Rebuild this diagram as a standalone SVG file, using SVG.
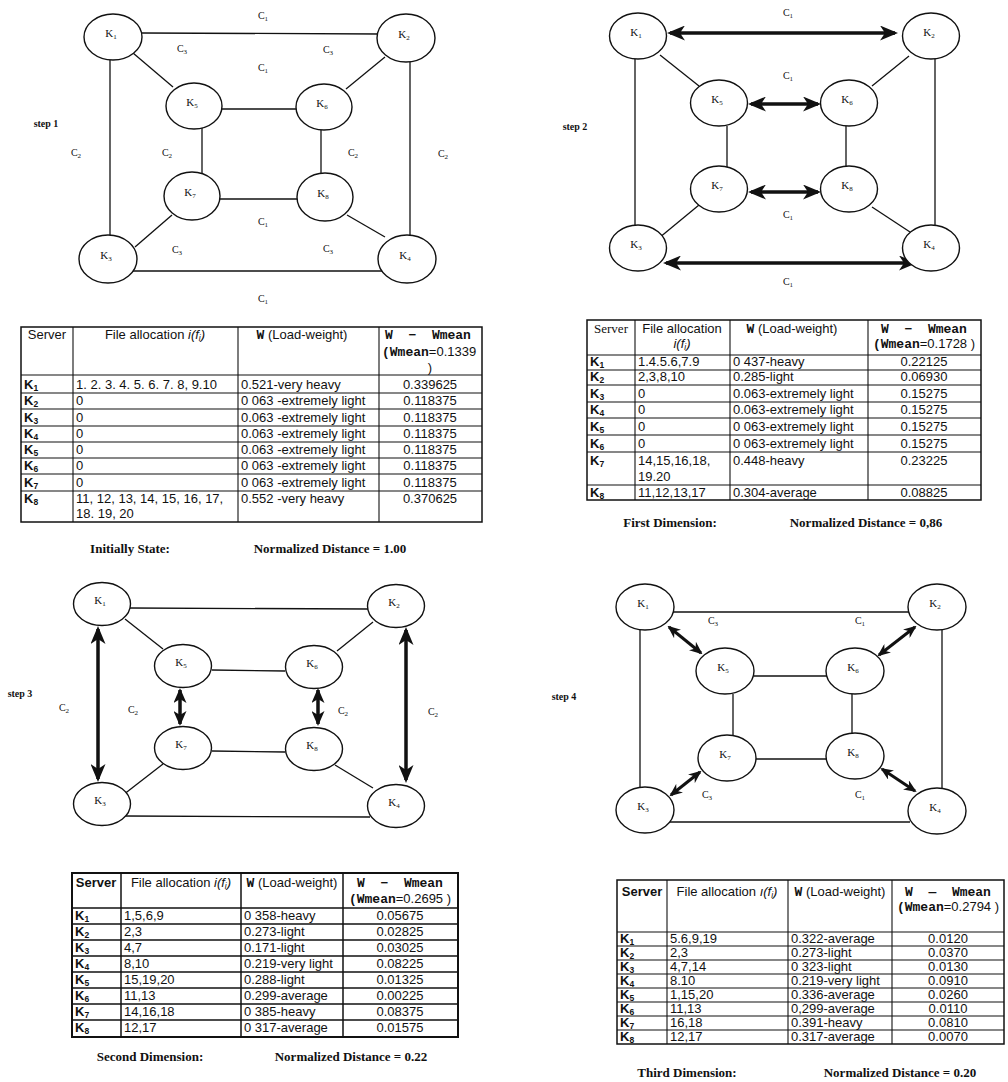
<svg xmlns="http://www.w3.org/2000/svg" width="1008" height="1082" viewBox="0 0 1008 1082">
<style>
.bg{fill:#fff}
.node ellipse{fill:#fff;stroke:#111;stroke-width:1.4}
.nl{font-family:"Liberation Serif","Times New Roman",serif;font-size:11px;text-anchor:middle;fill:#111}
.sub{font-size:7px}
.el{font-family:"Liberation Serif","Times New Roman",serif;font-size:10px;text-anchor:middle;fill:#111}
.step{font-family:"Liberation Serif","Times New Roman",serif;font-size:10px;font-weight:bold;text-anchor:middle;fill:#111}
.edge{stroke:#111;stroke-width:1.3;fill:none}
.arL{stroke:#111;stroke-width:3.5;fill:none;marker-start:url(#ahL);marker-end:url(#ahL)}
.arM{stroke:#111;stroke-width:3.5;fill:none;marker-start:url(#ahM);marker-end:url(#ahM)}
.arS{stroke:#111;stroke-width:3;fill:none;marker-start:url(#ahS);marker-end:url(#ahS)}
.tb rect{fill:none;stroke:#111;stroke-width:1.5}
.tb line{stroke:#111;stroke-width:1.1}
.tb text{font-family:"Liberation Sans",Arial,sans-serif;font-size:13px;fill:#111}
.tb .k{font-weight:bold}
.tb .ksub{font-size:8.5px}
.tb .c{text-anchor:middle}
.tb .mono{font-family:"Liberation Mono","Courier New",monospace;font-weight:bold}
.tb .it{font-style:italic}
.tb .serif{font-family:"Liberation Serif","Times New Roman",serif}
#table3 rect{stroke-width:2}
#table3 line{stroke-width:1.5}
.cap{font-family:"Liberation Serif","Times New Roman",serif;font-size:13px;font-weight:bold;text-anchor:middle;fill:#111}
</style>
<defs>
<marker id="ahL" viewBox="0 0 18 15" refX="15" refY="7.5" markerWidth="18" markerHeight="15" markerUnits="userSpaceOnUse" orient="auto-start-reverse"><path d="M0,0 L18,7.5 L0,15 L5,7.5 z" fill="#111"/></marker>
<marker id="ahM" viewBox="0 0 15 13" refX="13" refY="6.5" markerWidth="15" markerHeight="13" markerUnits="userSpaceOnUse" orient="auto-start-reverse"><path d="M0,0 L15,6.5 L0,13 L4,6.5 z" fill="#111"/></marker>
<marker id="ahS" viewBox="0 0 13 11" refX="11" refY="5.5" markerWidth="13" markerHeight="11" markerUnits="userSpaceOnUse" orient="auto-start-reverse"><path d="M0,0 L13,5.5 L0,11 L4,5.5 z" fill="#111"/></marker>
</defs>
<rect class="bg" x="0" y="0" width="1008" height="1082"/>

<!-- ===== STEP 1 ===== -->
<g id="step1">
<g id="s1-connectors">
<line class="edge" x1="142" y1="33" x2="380" y2="34"/>
<line class="edge" x1="110" y1="60" x2="110" y2="235"/>
<line class="edge" x1="410" y1="62" x2="410" y2="235"/>
<line class="edge" x1="133" y1="271" x2="382" y2="271"/>
<line class="edge" x1="133" y1="53" x2="173" y2="87"/>
<line class="edge" x1="385" y1="57" x2="346" y2="89"/>
<line class="edge" x1="222" y1="109" x2="296" y2="109"/>
<line class="edge" x1="202" y1="128" x2="202" y2="173"/>
<line class="edge" x1="321" y1="130" x2="321" y2="174"/>
<line class="edge" x1="220" y1="199" x2="297" y2="199"/>
<line class="edge" x1="172" y1="215" x2="135" y2="247"/>
<line class="edge" x1="347" y1="215" x2="385" y2="237"/>
</g>
<g id="s1-K1" class="node"><ellipse cx="113" cy="37" rx="29" ry="23"/><text class="nl" x="111" y="37">K<tspan class="sub" dy="2">1</tspan></text></g>
<g id="s1-K2" class="node"><ellipse cx="406" cy="38" rx="29" ry="24"/><text class="nl" x="404" y="38">K<tspan class="sub" dy="2">2</tspan></text></g>
<g id="s1-K5" class="node"><ellipse cx="194" cy="106" rx="28" ry="23"/><text class="nl" x="192" y="106">K<tspan class="sub" dy="2">5</tspan></text></g>
<g id="s1-K6" class="node"><ellipse cx="324" cy="107" rx="28" ry="23"/><text class="nl" x="322" y="107">K<tspan class="sub" dy="2">6</tspan></text></g>
<g id="s1-K7" class="node"><ellipse cx="192" cy="196" rx="28" ry="24"/><text class="nl" x="190" y="196">K<tspan class="sub" dy="2">7</tspan></text></g>
<g id="s1-K8" class="node"><ellipse cx="325" cy="197" rx="28" ry="24"/><text class="nl" x="323" y="197">K<tspan class="sub" dy="2">8</tspan></text></g>
<g id="s1-K3" class="node"><ellipse cx="108" cy="259" rx="29" ry="24"/><text class="nl" x="106" y="259">K<tspan class="sub" dy="2">3</tspan></text></g>
<g id="s1-K4" class="node"><ellipse cx="407" cy="259" rx="29" ry="24"/><text class="nl" x="405" y="259">K<tspan class="sub" dy="2">4</tspan></text></g>
<g id="s1-labels">
<text class="step" x="46" y="127">step 1</text>
<text class="el" x="263" y="19">C<tspan class="sub" dy="2">1</tspan></text>
<text class="el" x="182" y="52">C<tspan class="sub" dy="2">3</tspan></text>
<text class="el" x="328" y="53">C<tspan class="sub" dy="2">3</tspan></text>
<text class="el" x="263" y="71">C<tspan class="sub" dy="2">1</tspan></text>
<text class="el" x="76" y="156">C<tspan class="sub" dy="2">2</tspan></text>
<text class="el" x="167" y="156">C<tspan class="sub" dy="2">2</tspan></text>
<text class="el" x="353" y="156">C<tspan class="sub" dy="2">2</tspan></text>
<text class="el" x="443" y="157">C<tspan class="sub" dy="2">2</tspan></text>
<text class="el" x="263" y="225">C<tspan class="sub" dy="2">1</tspan></text>
<text class="el" x="177" y="253">C<tspan class="sub" dy="2">3</tspan></text>
<text class="el" x="328" y="252">C<tspan class="sub" dy="2">3</tspan></text>
<text class="el" x="263" y="302">C<tspan class="sub" dy="2">1</tspan></text>
</g>
</g>

<!-- ===== STEP 2 ===== -->
<g id="step2">
<g id="s2-connectors">
<line class="arL" x1="670" y1="33" x2="895" y2="33"/>
<line class="edge" x1="635" y1="59" x2="635" y2="225"/>
<line class="edge" x1="935" y1="59" x2="935" y2="225"/>
<line class="edge" x1="660" y1="55" x2="699" y2="86"/>
<line class="edge" x1="909" y1="56" x2="872" y2="86"/>
<line class="arL" x1="751" y1="104" x2="818" y2="104"/>
<line class="edge" x1="727" y1="126" x2="727" y2="167"/>
<line class="edge" x1="846" y1="126" x2="846" y2="167"/>
<line class="arL" x1="751" y1="192" x2="818" y2="192"/>
<line class="edge" x1="699" y1="205" x2="659" y2="238"/>
<line class="edge" x1="872" y1="207" x2="910" y2="232"/>
<line class="arL" x1="666" y1="263" x2="914" y2="263"/>
</g>
<g id="s2-K1" class="node"><ellipse cx="638" cy="36" rx="28.5" ry="23"/><text class="nl" x="636" y="36">K<tspan class="sub" dy="2">1</tspan></text></g>
<g id="s2-K2" class="node"><ellipse cx="931" cy="36" rx="28.5" ry="23"/><text class="nl" x="929" y="36">K<tspan class="sub" dy="2">2</tspan></text></g>
<g id="s2-K5" class="node"><ellipse cx="719" cy="103" rx="28.5" ry="23"/><text class="nl" x="717" y="103">K<tspan class="sub" dy="2">5</tspan></text></g>
<g id="s2-K6" class="node"><ellipse cx="849" cy="103" rx="28.5" ry="23"/><text class="nl" x="847" y="103">K<tspan class="sub" dy="2">6</tspan></text></g>
<g id="s2-K7" class="node"><ellipse cx="719" cy="189" rx="28.5" ry="23"/><text class="nl" x="717" y="189">K<tspan class="sub" dy="2">7</tspan></text></g>
<g id="s2-K8" class="node"><ellipse cx="849" cy="189" rx="28.5" ry="23"/><text class="nl" x="847" y="189">K<tspan class="sub" dy="2">8</tspan></text></g>
<g id="s2-K3" class="node"><ellipse cx="638" cy="248" rx="28.5" ry="23"/><text class="nl" x="636" y="248">K<tspan class="sub" dy="2">3</tspan></text></g>
<g id="s2-K4" class="node"><ellipse cx="931" cy="248" rx="28.5" ry="23"/><text class="nl" x="929" y="248">K<tspan class="sub" dy="2">4</tspan></text></g>
<g id="s2-labels">
<text class="step" x="575" y="130">step 2</text>
<text class="el" x="788" y="16">C<tspan class="sub" dy="2">1</tspan></text>
<text class="el" x="788" y="79">C<tspan class="sub" dy="2">1</tspan></text>
<text class="el" x="788" y="218">C<tspan class="sub" dy="2">1</tspan></text>
<text class="el" x="788" y="285">C<tspan class="sub" dy="2">1</tspan></text>
</g>
</g>

<!-- ===== TABLE 1 ===== -->
<g id="table1" class="tb">
<rect x="21" y="327" width="461" height="195"/>
<line x1="73" y1="327" x2="73" y2="522"/>
<line x1="238" y1="327" x2="238" y2="522"/>
<line x1="379" y1="327" x2="379" y2="522"/>
<line x1="21" y1="375" x2="482" y2="375"/>
<line x1="21" y1="393" x2="482" y2="393"/>
<line x1="21" y1="409" x2="482" y2="409"/>
<line x1="21" y1="426" x2="482" y2="426"/>
<line x1="21" y1="442" x2="482" y2="442"/>
<line x1="21" y1="458" x2="482" y2="458"/>
<line x1="21" y1="474" x2="482" y2="474"/>
<line x1="21" y1="491" x2="482" y2="491"/>
<text class="c" x="47" y="339">Server</text>
<text class="c" x="155" y="339">File allocation <tspan class="it">i(f<tspan class="ksub" dy="2">i</tspan><tspan dy="-2">)</tspan></tspan></text>
<text class="c" x="302" y="339"><tspan class="mono">W</tspan> (Load-weight)</text>
<text class="c mono" x="428" y="339" xml:space="preserve">W  −  Wmean</text>
<text x="382" y="356"><tspan class="mono">(Wmean</tspan>=0.1339</text>
<text class="c" x="430" y="372">)</text>
<text class="k" x="24" y="389">K<tspan class="ksub" dy="2">1</tspan></text>
<text x="76" y="389">1. 2. 3. 4. 5. 6. 7. 8, 9.10</text>
<text x="241" y="389">0.521-very heavy</text>
<text class="c" x="430" y="389">0.339625</text>
<text class="k" x="24" y="405">K<tspan class="ksub" dy="2">2</tspan></text>
<text x="76" y="405">0</text>
<text x="241" y="405">0 063 -extremely light</text>
<text class="c" x="430" y="405">0.118375</text>
<text class="k" x="24" y="422">K<tspan class="ksub" dy="2">3</tspan></text>
<text x="76" y="422">0</text>
<text x="241" y="422">0.063 -extremely light</text>
<text class="c" x="430" y="422">0.118375</text>
<text class="k" x="24" y="438">K<tspan class="ksub" dy="2">4</tspan></text>
<text x="76" y="438">0</text>
<text x="241" y="438">0.063 -extremely light</text>
<text class="c" x="430" y="438">0.118375</text>
<text class="k" x="24" y="454">K<tspan class="ksub" dy="2">5</tspan></text>
<text x="76" y="454">0</text>
<text x="241" y="454">0.063 -extremely light</text>
<text class="c" x="430" y="454">0.118375</text>
<text class="k" x="24" y="470">K<tspan class="ksub" dy="2">6</tspan></text>
<text x="76" y="470">0</text>
<text x="241" y="470">0 063 -extremely light</text>
<text class="c" x="430" y="470">0.118375</text>
<text class="k" x="24" y="487">K<tspan class="ksub" dy="2">7</tspan></text>
<text x="76" y="487">0</text>
<text x="241" y="487">0 063 -extremely light</text>
<text class="c" x="430" y="487">0.118375</text>
<text class="k" x="24" y="503">K<tspan class="ksub" dy="2">8</tspan></text>
<text x="76" y="503">11, 12, 13, 14, 15, 16, 17,</text>
<text x="76" y="518">18. 19, 20</text>
<text x="241" y="503">0.552 -very heavy</text>
<text class="c" x="430" y="503">0.370625</text>
</g>
<text class="cap" x="130" y="553">Initially State:</text>
<text class="cap" x="330" y="553">Normalized Distance = 1.00</text>

<!-- ===== TABLE 2 ===== -->
<g id="table2" class="tb">
<rect x="587" y="320" width="394" height="180"/>
<line x1="635" y1="320" x2="635" y2="500"/>
<line x1="730" y1="320" x2="730" y2="500"/>
<line x1="868" y1="320" x2="868" y2="500"/>
<line x1="587" y1="355" x2="981" y2="355"/>
<line x1="587" y1="370" x2="981" y2="370"/>
<line x1="587" y1="385" x2="981" y2="385"/>
<line x1="587" y1="402" x2="981" y2="402"/>
<line x1="587" y1="418" x2="981" y2="418"/>
<line x1="587" y1="435" x2="981" y2="435"/>
<line x1="587" y1="452" x2="981" y2="452"/>
<line x1="587" y1="485" x2="981" y2="485"/>
<text class="c serif" x="611" y="333">Server</text>
<text class="c" x="682" y="333">File allocation</text>
<text class="c it" x="682" y="348">i(f<tspan class="ksub" dy="2">i</tspan><tspan dy="-2">)</tspan></text>
<text class="c" x="792" y="333"><tspan class="mono">W</tspan> (Load-weight)</text>
<text class="c mono" x="924" y="333" xml:space="preserve">W  −  Wmean</text>
<text class="c" x="924" y="348"><tspan class="mono">(Wmean</tspan>=0.1728 )</text>
<text class="k" x="590" y="366">K<tspan class="ksub" dy="2">1</tspan></text>
<text x="638" y="366">1.4.5.6,7.9</text>
<text x="733" y="366">0 437-heavy</text>
<text class="c" x="924" y="366">0.22125</text>
<text class="k" x="590" y="381">K<tspan class="ksub" dy="2">2</tspan></text>
<text x="638" y="381">2,3,8,10</text>
<text x="733" y="381">0.285-light</text>
<text class="c" x="924" y="381">0.06930</text>
<text class="k" x="590" y="398">K<tspan class="ksub" dy="2">3</tspan></text>
<text x="638" y="398">0</text>
<text x="733" y="398">0.063-extremely light</text>
<text class="c" x="924" y="398">0.15275</text>
<text class="k" x="590" y="414">K<tspan class="ksub" dy="2">4</tspan></text>
<text x="638" y="414">0</text>
<text x="733" y="414">0.063-extremely light</text>
<text class="c" x="924" y="414">0.15275</text>
<text class="k" x="590" y="431">K<tspan class="ksub" dy="2">5</tspan></text>
<text x="638" y="431">0</text>
<text x="733" y="431">0 063-extremely light</text>
<text class="c" x="924" y="431">0.15275</text>
<text class="k" x="590" y="448">K<tspan class="ksub" dy="2">6</tspan></text>
<text x="638" y="448">0</text>
<text x="733" y="448">0 063-extremely light</text>
<text class="c" x="924" y="448">0.15275</text>
<text class="k" x="590" y="465">K<tspan class="ksub" dy="2">7</tspan></text>
<text x="638" y="465">14,15,16,18,</text>
<text x="638" y="481">19.20</text>
<text x="733" y="465">0.448-heavy</text>
<text class="c" x="924" y="465">0.23225</text>
<text class="k" x="590" y="497">K<tspan class="ksub" dy="2">8</tspan></text>
<text x="638" y="497">11,12,13,17</text>
<text x="733" y="497">0.304-average</text>
<text class="c" x="924" y="497">0.08825</text>
</g>
<text class="cap" x="670" y="527">First Dimension:</text>
<text class="cap" x="866" y="527">Normalized Distance = 0,86</text>

<!-- ===== STEP 3 ===== -->
<g id="step3">
<g id="s3-connectors">
<line class="edge" x1="130" y1="608" x2="368" y2="609"/>
<line class="edge" x1="125" y1="816" x2="370" y2="817"/>
<line class="arL" x1="98" y1="629" x2="98" y2="779"/>
<line class="arL" x1="406" y1="630" x2="406" y2="780"/>
<line class="edge" x1="125" y1="619" x2="163" y2="649"/>
<line class="edge" x1="373" y1="622" x2="337" y2="651"/>
<line class="edge" x1="212" y1="670" x2="285" y2="671"/>
<line class="edge" x1="212" y1="751" x2="285" y2="752"/>
<line class="arM" x1="180" y1="690" x2="180" y2="724"/>
<line class="arM" x1="318" y1="690" x2="318" y2="724"/>
<line class="edge" x1="163" y1="764" x2="123" y2="795"/>
<line class="edge" x1="335" y1="765" x2="373" y2="788"/>
</g>
<g id="s3-K1" class="node"><ellipse cx="102" cy="604" rx="28.5" ry="21.5"/><text class="nl" x="100" y="604">K<tspan class="sub" dy="2">1</tspan></text></g>
<g id="s3-K2" class="node"><ellipse cx="396" cy="606" rx="28.5" ry="21.5"/><text class="nl" x="394" y="606">K<tspan class="sub" dy="2">2</tspan></text></g>
<g id="s3-K5" class="node"><ellipse cx="183" cy="666" rx="28.5" ry="21.5"/><text class="nl" x="181" y="666">K<tspan class="sub" dy="2">5</tspan></text></g>
<g id="s3-K6" class="node"><ellipse cx="314" cy="667" rx="28.5" ry="21.5"/><text class="nl" x="312" y="667">K<tspan class="sub" dy="2">6</tspan></text></g>
<g id="s3-K7" class="node"><ellipse cx="183" cy="748" rx="28.5" ry="21.5"/><text class="nl" x="181" y="748">K<tspan class="sub" dy="2">7</tspan></text></g>
<g id="s3-K8" class="node"><ellipse cx="314" cy="749" rx="28.5" ry="21.5"/><text class="nl" x="312" y="749">K<tspan class="sub" dy="2">8</tspan></text></g>
<g id="s3-K3" class="node"><ellipse cx="102" cy="804" rx="28.5" ry="21.5"/><text class="nl" x="100" y="804">K<tspan class="sub" dy="2">3</tspan></text></g>
<g id="s3-K4" class="node"><ellipse cx="396" cy="806" rx="28.5" ry="21.5"/><text class="nl" x="394" y="806">K<tspan class="sub" dy="2">4</tspan></text></g>
<g id="s3-labels">
<text class="step" x="20" y="697">step 3</text>
<text class="el" x="64" y="711">C<tspan class="sub" dy="2">2</tspan></text>
<text class="el" x="133" y="713">C<tspan class="sub" dy="2">2</tspan></text>
<text class="el" x="343" y="714">C<tspan class="sub" dy="2">2</tspan></text>
<text class="el" x="433" y="715">C<tspan class="sub" dy="2">2</tspan></text>
</g>
</g>

<!-- ===== STEP 4 ===== -->
<g id="step4">
<g id="s4-connectors">
<line class="edge" x1="673" y1="612" x2="910" y2="612"/>
<line class="edge" x1="640" y1="630" x2="640" y2="790"/>
<line class="edge" x1="942" y1="630" x2="942" y2="790"/>
<line class="edge" x1="670" y1="822" x2="910" y2="822"/>
<line class="edge" x1="754" y1="676" x2="827" y2="676"/>
<line class="edge" x1="756" y1="759" x2="827" y2="759"/>
<line class="edge" x1="733" y1="694" x2="733" y2="735"/>
<line class="edge" x1="852" y1="694" x2="852" y2="733"/>
<line class="arS" x1="669" y1="627" x2="701" y2="653"/>
<line class="arS" x1="915" y1="627" x2="879" y2="655"/>
<line class="arS" x1="700" y1="772" x2="671" y2="795"/>
<line class="arS" x1="882" y1="769" x2="915" y2="791"/>
</g>
<g id="s4-K1" class="node"><ellipse cx="645" cy="607" rx="29" ry="23"/><text class="nl" x="643" y="607">K<tspan class="sub" dy="2">1</tspan></text></g>
<g id="s4-K2" class="node"><ellipse cx="937" cy="607" rx="29" ry="23"/><text class="nl" x="935" y="607">K<tspan class="sub" dy="2">2</tspan></text></g>
<g id="s4-K5" class="node"><ellipse cx="725" cy="671" rx="29" ry="23"/><text class="nl" x="723" y="671">K<tspan class="sub" dy="2">5</tspan></text></g>
<g id="s4-K6" class="node"><ellipse cx="855" cy="671" rx="29" ry="23"/><text class="nl" x="853" y="671">K<tspan class="sub" dy="2">6</tspan></text></g>
<g id="s4-K7" class="node"><ellipse cx="727" cy="758" rx="29" ry="23"/><text class="nl" x="725" y="758">K<tspan class="sub" dy="2">7</tspan></text></g>
<g id="s4-K8" class="node"><ellipse cx="855" cy="756" rx="29" ry="23"/><text class="nl" x="853" y="756">K<tspan class="sub" dy="2">8</tspan></text></g>
<g id="s4-K3" class="node"><ellipse cx="645" cy="810" rx="29" ry="23"/><text class="nl" x="643" y="810">K<tspan class="sub" dy="2">3</tspan></text></g>
<g id="s4-K4" class="node"><ellipse cx="937" cy="811" rx="29" ry="23"/><text class="nl" x="935" y="811">K<tspan class="sub" dy="2">4</tspan></text></g>
<g id="s4-labels">
<text class="step" x="564" y="700">step 4</text>
<text class="el" x="713" y="624">C<tspan class="sub" dy="2">3</tspan></text>
<text class="el" x="860" y="624">C<tspan class="sub" dy="2">1</tspan></text>
<text class="el" x="707" y="798">C<tspan class="sub" dy="2">3</tspan></text>
<text class="el" x="860" y="798">C<tspan class="sub" dy="2">1</tspan></text>
</g>
</g>

<!-- ===== TABLE 3 ===== -->
<g id="table3" class="tb">
<rect x="72" y="873" width="386" height="164"/>
<line x1="121" y1="873" x2="121" y2="1037"/>
<line x1="241" y1="873" x2="241" y2="1037"/>
<line x1="343" y1="873" x2="343" y2="1037"/>
<line x1="72" y1="908" x2="458" y2="908"/>
<line x1="72" y1="924" x2="458" y2="924"/>
<line x1="72" y1="940" x2="458" y2="940"/>
<line x1="72" y1="956" x2="458" y2="956"/>
<line x1="72" y1="972" x2="458" y2="972"/>
<line x1="72" y1="988" x2="458" y2="988"/>
<line x1="72" y1="1004" x2="458" y2="1004"/>
<line x1="72" y1="1020" x2="458" y2="1020"/>
<text class="c k" x="96" y="887">Server</text>
<text class="c" x="181" y="887">File allocation <tspan class="it">i(f<tspan class="ksub" dy="2">i</tspan><tspan dy="-2">)</tspan></tspan></text>
<text class="c" x="292" y="887"><tspan class="mono">W</tspan> (Load-weight)</text>
<text class="c mono" x="400" y="887" xml:space="preserve">W  −  Wmean</text>
<text class="c" x="400" y="903"><tspan class="mono">(Wmean</tspan>=0.2695 )</text>
<text class="k" x="75" y="920">K<tspan class="ksub" dy="2">1</tspan></text>
<text x="124" y="920">1,5,6,9</text>
<text x="244" y="920">0 358-heavy</text>
<text class="c" x="400" y="920">0.05675</text>
<text class="k" x="75" y="936">K<tspan class="ksub" dy="2">2</tspan></text>
<text x="124" y="936">2,3</text>
<text x="244" y="936">0.273-light</text>
<text class="c" x="400" y="936">0.02825</text>
<text class="k" x="75" y="952">K<tspan class="ksub" dy="2">3</tspan></text>
<text x="124" y="952">4,7</text>
<text x="244" y="952">0.171-light</text>
<text class="c" x="400" y="952">0.03025</text>
<text class="k" x="75" y="968">K<tspan class="ksub" dy="2">4</tspan></text>
<text x="124" y="968">8,10</text>
<text x="244" y="968">0.219-very light</text>
<text class="c" x="400" y="968">0.08225</text>
<text class="k" x="75" y="984">K<tspan class="ksub" dy="2">5</tspan></text>
<text x="124" y="984">15,19,20</text>
<text x="244" y="984">0.288-light</text>
<text class="c" x="400" y="984">0.01325</text>
<text class="k" x="75" y="1000">K<tspan class="ksub" dy="2">6</tspan></text>
<text x="124" y="1000">11,13</text>
<text x="244" y="1000">0.299-average</text>
<text class="c" x="400" y="1000">0.00225</text>
<text class="k" x="75" y="1016">K<tspan class="ksub" dy="2">7</tspan></text>
<text x="124" y="1016">14,16,18</text>
<text x="244" y="1016">0 385-heavy</text>
<text class="c" x="400" y="1016">0.08375</text>
<text class="k" x="75" y="1032">K<tspan class="ksub" dy="2">8</tspan></text>
<text x="124" y="1032">12,17</text>
<text x="244" y="1032">0 317-average</text>
<text class="c" x="400" y="1032">0.01575</text>
</g>
<text class="cap" x="150" y="1061">Second Dimension:</text>
<text class="cap" x="351" y="1061">Normalized Distance = 0.22</text>

<!-- ===== TABLE 4 ===== -->
<g id="table4" class="tb">
<rect x="617" y="880" width="387" height="164"/>
<line x1="667" y1="880" x2="667" y2="1044"/>
<line x1="788" y1="880" x2="788" y2="1044"/>
<line x1="892" y1="880" x2="892" y2="1044"/>
<line x1="617" y1="932" x2="1004" y2="932"/>
<line x1="617" y1="946" x2="1004" y2="946"/>
<line x1="617" y1="960" x2="1004" y2="960"/>
<line x1="617" y1="974" x2="1004" y2="974"/>
<line x1="617" y1="988" x2="1004" y2="988"/>
<line x1="617" y1="1002" x2="1004" y2="1002"/>
<line x1="617" y1="1016" x2="1004" y2="1016"/>
<line x1="617" y1="1030" x2="1004" y2="1030"/>
<text class="c k" x="642" y="896">Server</text>
<text class="c" x="727" y="896">File allocation <tspan class="it">ı(f<tspan class="ksub" dy="2">i</tspan><tspan dy="-2">)</tspan></tspan></text>
<text class="c" x="840" y="896"><tspan class="mono">W</tspan> (Load-weight)</text>
<text class="c mono" x="948" y="896" xml:space="preserve">W  —  Wmean</text>
<text class="c" x="948" y="911"><tspan class="mono">(Wmean</tspan>=0.2794 )</text>
<text class="k" x="620" y="943">K<tspan class="ksub" dy="2">1</tspan></text>
<text x="670" y="943">5.6,9,19</text>
<text x="791" y="943">0.322-average</text>
<text class="c" x="948" y="943">0.0120</text>
<text class="k" x="620" y="957">K<tspan class="ksub" dy="2">2</tspan></text>
<text x="670" y="957">2,3</text>
<text x="791" y="957">0.273-light</text>
<text class="c" x="948" y="957">0.0370</text>
<text class="k" x="620" y="971">K<tspan class="ksub" dy="2">3</tspan></text>
<text x="670" y="971">4,7,14</text>
<text x="791" y="971">0 323-light</text>
<text class="c" x="948" y="971">0.0130</text>
<text class="k" x="620" y="985">K<tspan class="ksub" dy="2">4</tspan></text>
<text x="670" y="985">8.10</text>
<text x="791" y="985">0.219-very light</text>
<text class="c" x="948" y="985">0.0910</text>
<text class="k" x="620" y="999">K<tspan class="ksub" dy="2">5</tspan></text>
<text x="670" y="999">1,15,20</text>
<text x="791" y="999">0.336-average</text>
<text class="c" x="948" y="999">0.0260</text>
<text class="k" x="620" y="1013">K<tspan class="ksub" dy="2">6</tspan></text>
<text x="670" y="1013">11,13</text>
<text x="791" y="1013">0,299-average</text>
<text class="c" x="948" y="1013">0.0110</text>
<text class="k" x="620" y="1027">K<tspan class="ksub" dy="2">7</tspan></text>
<text x="670" y="1027">16,18</text>
<text x="791" y="1027">0.391-heavy</text>
<text class="c" x="948" y="1027">0.0810</text>
<text class="k" x="620" y="1041">K<tspan class="ksub" dy="2">8</tspan></text>
<text x="670" y="1041">12,17</text>
<text x="791" y="1041">0.317-average</text>
<text class="c" x="948" y="1041">0.0070</text>
</g>
<text class="cap" x="687" y="1077">Third Dimension:</text>
<text class="cap" x="900" y="1077">Normalized Distance = 0.20</text>
</svg>
